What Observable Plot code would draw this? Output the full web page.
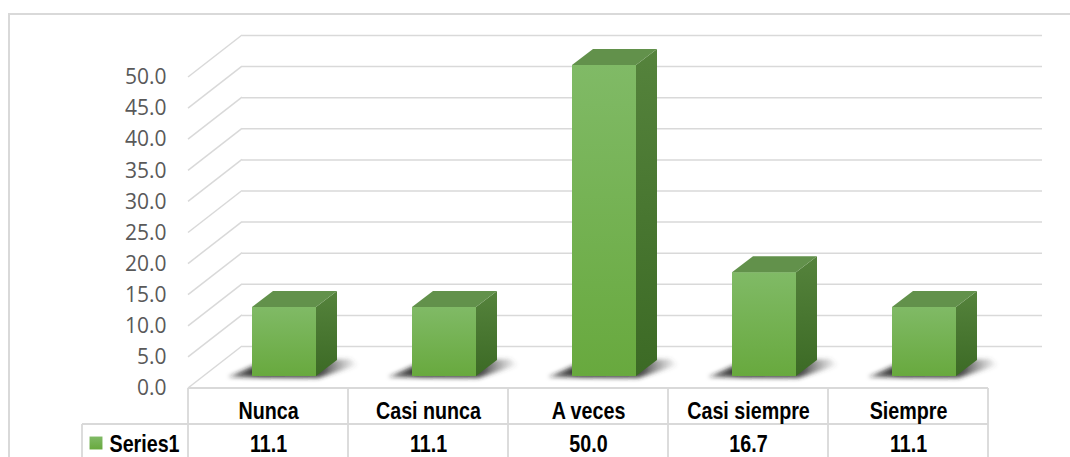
<!DOCTYPE html>
<html><head><meta charset="utf-8">
<script src="https://cdn.jsdelivr.net/npm/d3@7"></script>
<script src="https://cdn.jsdelivr.net/npm/@observablehq/plot@0.6"></script>
<style>
html,body{margin:0;padding:0;background:#fff;}
#wrap{position:relative;width:1070px;height:457px;overflow:hidden;background:#fff;}
#frame{position:absolute;left:8px;top:13px;width:1200px;height:600px;border:2px solid #d9d9d9;box-sizing:border-box;pointer-events:none;}
#chart svg{position:absolute;left:0;top:0;}
</style></head><body>
<div id="wrap"><div id="chart"></div><div id="frame"></div></div>
<script>
// ---- data ----
const categories = ["Nunca", "Casi nunca", "A veces", "Casi siempre", "Siempre"];
const values = [11.1, 11.1, 50.0, 16.7, 11.1];
const seriesName = "Series1";
const yTicks = [0, 5, 10, 15, 20, 25, 30, 35, 40, 45, 50];

// ---- style / perspective constants ----
const FLOOR_DX = 54, FLOOR_DY = 42;     // depth of the back wall
const BAR_DX = 16, BAR_DY = 12;         // front plane of the bars
const BAR_INSET = 48;                   // bar width inside band
const BAR_DEPTH_X = 21, BAR_DEPTH_Y = 16;
const GRID = "#d9d9d9";
const narrow = "Liberation Sans, Arial, sans-serif";
const NARROW_SCALE = 0.82;

const rows = categories.map((c, i) => ({cat: c, v: values[i]}));

function barGeom(scales, d) {
  const x = scales.x, y = scales.y;
  const bw = x(categories[1]) - x(categories[0]);
  const xL = x(d.cat) + BAR_INSET + BAR_DX;
  const xR = x(d.cat) + bw - BAR_INSET + BAR_DX;
  const yTop = y(d.v) - BAR_DY;
  const yBase = y(0) - BAR_DY;
  return {xL, xR, yTop, yBase};
}

const defsMark = () => {
  const g = d3.create("svg:g");
  const defs = g.append("defs");
  const fg = defs.append("linearGradient").attr("id", "frontGrad").attr("x1", 0).attr("y1", 0).attr("x2", 0).attr("y2", 1);
  fg.append("stop").attr("offset", "0%").attr("stop-color", "#80ba66");
  fg.append("stop").attr("offset", "100%").attr("stop-color", "#68a93e");
  const sg = defs.append("linearGradient").attr("id", "sideGrad").attr("x1", 0).attr("y1", 0).attr("x2", 0).attr("y2", 1);
  sg.append("stop").attr("offset", "0%").attr("stop-color", "#55833c");
  sg.append("stop").attr("offset", "100%").attr("stop-color", "#3c6a25");
  const hg = defs.append("linearGradient").attr("id", "shadowGrad").attr("x1", 0).attr("y1", 0).attr("x2", 1).attr("y2", 0);
  hg.append("stop").attr("offset", "0%").attr("stop-color", "#222").attr("stop-opacity", 0.5);
  hg.append("stop").attr("offset", "25%").attr("stop-color", "#1a1a1a").attr("stop-opacity", 0.95);
  hg.append("stop").attr("offset", "72%").attr("stop-color", "#2a2a2a").attr("stop-opacity", 0.85);
  hg.append("stop").attr("offset", "100%").attr("stop-color", "#555").attr("stop-opacity", 0);
  const lg = defs.append("linearGradient").attr("id", "legGrad").attr("x1", 0).attr("y1", 0).attr("x2", 0).attr("y2", 1);
  lg.append("stop").attr("offset", "0%").attr("stop-color", "#80ba66");
  lg.append("stop").attr("offset", "100%").attr("stop-color", "#68a93e");
  const f = defs.append("filter").attr("id", "blur").attr("x", "-50%").attr("y", "-50%").attr("width", "200%").attr("height", "200%");
  f.append("feGaussianBlur").attr("stdDeviation", 2.2);
  return g.node();
};

// diagonal lines of the left side wall
const sideWallMark = (index, scales) => {
  const g = d3.create("svg:g").attr("stroke", GRID).attr("stroke-width", 1.5).attr("fill", "none");
  const x0 = scales.x(categories[0]);
  for (const t of yTicks) {
    const yy = scales.y(t);
    g.append("line").attr("x1", x0).attr("y1", yy).attr("x2", x0 + FLOOR_DX).attr("y2", yy - FLOOR_DY);
  }
  return g.node();
};

const shadowMark = (index, scales) => {
  const g = d3.create("svg:g").attr("filter", "url(#blur)");
  for (const d of rows) {
    const {xL, xR, yBase} = barGeom(scales, d);
    const pts = [[xL - 24, yBase + 1], [xR + 2, yBase + 2], [xR + 42, yBase - 11], [xR + 34, yBase - 17], [xL + 10, yBase - 14]];
    g.append("polygon").attr("points", pts.map(p => p.join(",")).join(" ")).attr("fill", "url(#shadowGrad)");
  }
  return g.node();
};

const bar3dMark = (index, scales) => {
  const g = d3.create("svg:g");
  for (const d of rows) {
    const {xL, xR, yTop, yBase} = barGeom(scales, d);
    const side = [[xR, yTop], [xR + BAR_DEPTH_X, yTop - BAR_DEPTH_Y], [xR + BAR_DEPTH_X, yBase - BAR_DEPTH_Y], [xR, yBase]];
    g.append("polygon").attr("points", side.map(p => p.join(",")).join(" ")).attr("fill", "url(#sideGrad)");
    const top = [[xL, yTop], [xL + BAR_DEPTH_X, yTop - BAR_DEPTH_Y], [xR + BAR_DEPTH_X, yTop - BAR_DEPTH_Y], [xR, yTop]];
    g.append("polygon").attr("points", top.map(p => p.join(",")).join(" ")).attr("fill", "#62914b");
  }
  return g.node();
};

const tableMark = (index, scales) => {
  const g = d3.create("svg:g").attr("stroke", GRID).attr("stroke-width", 1.8).attr("fill", "none");
  const x = scales.x, y = scales.y;
  const bw = x(categories[1]) - x(categories[0]);
  const x0 = x(categories[0]);
  const x1 = x(categories[categories.length - 1]) + bw;
  const y0 = y(0);
  const rowH = 36;
  const legendW = 106;
  g.append("line").attr("x1", x0).attr("x2", x1).attr("y1", y0).attr("y2", y0);
  g.append("line").attr("x1", x0 - legendW).attr("x2", x1).attr("y1", y0 + rowH).attr("y2", y0 + rowH);
  g.append("line").attr("x1", x0 - legendW).attr("x2", x0 - legendW).attr("y1", y0 + rowH).attr("y2", y0 + 200);
  for (let i = 0; i <= categories.length; i++) {
    const xx = x0 + i * bw;
    g.append("line").attr("x1", xx).attr("x2", xx).attr("y1", y0).attr("y2", y0 + 200);
  }
  return g.node();
};

const tableText = {fill: "#000", fontWeight: "bold", fontSize: 24, fontFamily: narrow};

const chart = Plot.plot({
  width: 1070,
  height: 457,
  marginLeft: 188,
  marginRight: 82,
  marginTop: 77,
  marginBottom: 69,
  style: {background: "transparent", fontFamily: "'Open Sans', sans-serif", fontSize: "21px", color: "#595959", overflow: "visible"},
  x: {domain: categories, padding: 0, axis: null},
  y: {domain: [0, 50], axis: null},
  marks: [
    defsMark,
    Plot.ruleY(yTicks, {y: d => d, dx: FLOOR_DX, dy: -FLOOR_DY, stroke: GRID, strokeWidth: 1.5}),
    sideWallMark,
    Plot.text(yTicks, {y: d => d, frameAnchor: "left", dx: -22, textAnchor: "end", text: d => d.toFixed(1), fill: "#595959", fontSize: 21, fontFamily: "'Open Sans', sans-serif"}),
    shadowMark,
    Plot.barY(rows, {x: "cat", y: "v", insetLeft: BAR_INSET, insetRight: BAR_INSET, dx: BAR_DX, dy: -BAR_DY, fill: "url(#frontGrad)"}),
    bar3dMark,
    tableMark,
    Plot.text(categories, {x: d => d, y: () => 0, dy: 23, text: d => d, ...tableText}),
    Plot.text(rows, {x: "cat", y: () => 0, dy: 55.5, text: d => d.v.toFixed(1), ...tableText}),
    Plot.text([seriesName], {y: () => 0, frameAnchor: "left", dx: -79, dy: 55.5, textAnchor: "start", text: d => d, ...tableText}),
    Plot.dot([seriesName], {y: () => 0, frameAnchor: "left", dx: -92.5, dy: 54.5, symbol: "square", r: 7.3, fill: "url(#legGrad)", stroke: null})
  ]
});
document.getElementById("chart").appendChild(chart);

// condense the bold table text (Arial Narrow look) around its anchor
d3.select(chart).selectAll("g").filter(function() { return this.getAttribute("font-family") === narrow; })
  .selectAll("text").each(function() {
    const t = d3.select(this);
    const w = this.getComputedTextLength();
    t.attr("textLength", w * NARROW_SCALE).attr("lengthAdjust", "spacingAndGlyphs");
  });
</script>
</body></html>
